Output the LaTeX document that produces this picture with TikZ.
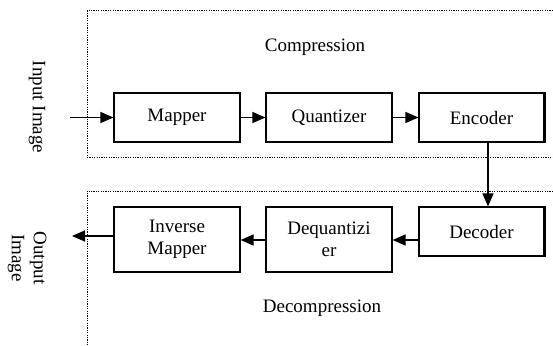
\documentclass[tikz,border=0pt]{standalone}
\usepackage{fontspec}
\setmainfont{Liberation Serif}
\usetikzlibrary{arrows.meta}
\begin{document}
\begin{tikzpicture}[x=1pt,y=-1pt,
  every node/.style={font=\fontsize{19}{22}\selectfont},
  blk/.style={draw,line width=1.2pt,minimum width=126pt,inner sep=0pt,align=center},
  frame/.style={line width=1pt,dash pattern=on 1.2pt off 1.2pt},
  arr/.style={line width=1.4pt,-{Triangle[length=13pt,width=11pt]}},
  thick edge/.style={line width=2.4pt}]
\useasboundingbox (0,0) rectangle (553,345);
% frames
\draw[frame] (553,11) -- (87,11) -- (87,157) -- (553,157);
\draw[frame] (553,191) -- (87,191) -- (87,345);
% labels
\node (comp) at (315,47) {Compression};
\node (decomp) at (322,308) {Decompression};
\node[rotate=-90] (inlbl) at (37,107) {Input Image};
\node[rotate=-90,align=center] (outlbl) at (27,258) {Output\\Image};
% blocks
\node[blk,minimum height=49pt] (map) at (177,117.5) {Mapper};
\node[blk,minimum height=49pt] (quant) at (329,117.5) {Quantizer};
\node[blk,minimum height=49pt,minimum width=125pt] (enc) at (481.5,117.5) {Encoder};
\node[blk,minimum height=49pt,minimum width=125pt] (dec) at (481.5,231.5) {Decoder};
\node[blk,minimum height=65pt] (dequant) at (329,239.5) {Dequantizi\\er};
\node[blk,minimum height=65pt] (imap) at (177,239.5) {Inverse\\Mapper};
\draw[thick edge] (enc.north east) -- (enc.south east);
\draw[thick edge] (dec.north east) -- (dec.south east);
% connectors
\coordinate (in) at (70,117.5);
\coordinate (out) at (72,236);
\draw[arr] (in) -- (map.west);
\draw[arr] (map.east) -- (quant.west);
\draw[arr] (quant.east) -- (enc.west);
\draw[arr] ([xshift=6.5pt]enc.south) -- ([xshift=6.5pt]dec.north);
\draw[arr] ([yshift=-8.5pt]dec.west) -- ([yshift=-0.5pt]dequant.east);
\draw[arr] ([yshift=-0.5pt]dequant.west) -- ([yshift=-0.5pt]imap.east);
\draw[arr] ([yshift=3.5pt]imap.west) -- (out);
\end{tikzpicture}
\end{document}
